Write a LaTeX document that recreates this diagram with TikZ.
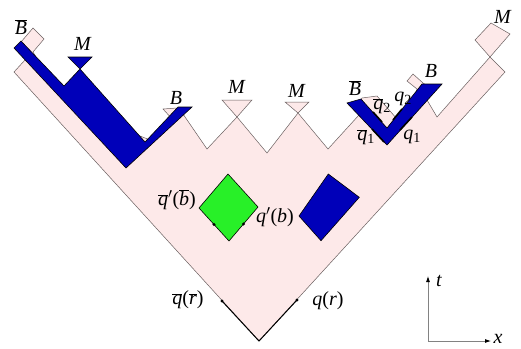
\documentclass[tikz,border=0pt]{standalone}
\usepackage{fontspec}
\setmainfont{Liberation Serif}
\usetikzlibrary{arrows.meta}
\definecolor{pinkfill}{RGB}{253,233,233}
\definecolor{bluefill}{RGB}{0,0,185}
\definecolor{greenfill}{RGB}{40,240,40}
\definecolor{edgegray}{RGB}{105,95,95}
\definecolor{axisgray}{RGB}{130,130,130}
\newcommand{\obar}[1]{$\overline{\mbox{\textit{#1}}}$}
\begin{document}
\begin{tikzpicture}[x=1pt,y=-1pt,
  lbl/.style={font=\fontsize{20}{22}\selectfont, inner sep=0pt, text=black},
  pinkarea/.style={fill=pinkfill, draw=edgegray, line width=0.5pt, line join=miter},
  bluearea/.style={fill=bluefill, draw=black, line width=0.6pt},
  greenarea/.style={fill=greenfill, draw=black, line width=0.6pt},
  quark/.style={black, line width=1pt},
  qthick/.style={black, line width=1.6pt},
  qdot/.style={fill=black},
  axis/.style={axisgray, line width=0.8pt, -{Latex[length=6pt,width=4pt,color=black]}}
]
\useasboundingbox (0,0) rectangle (521,348);

% string region (light cone with zigzag top)
\path[pinkarea] (259,341) -- (14,72) -- (25,60) -- (22,48) -- (21,42) -- (33,28) -- (44,39)
  -- (33,52) -- (40,64) -- (100,120) -- (150,140) -- (174,120) -- (169.4,116) -- (163,109)
  -- (177,108) -- (183,114) -- (207,149) -- (237,117) -- (222,100) -- (252,100) -- (237,117)
  -- (267,153) -- (298,113) -- (285,102) -- (309,102) -- (298,113) -- (328,149) -- (359,115)
  -- (358,104) -- (362,98) -- (377,96) -- (395.5,117.3) -- (412,105) -- (417,89) -- (407,81)
  -- (413,74) -- (423,83) -- (433,90) -- (427,100) -- (437,117) -- (490,57) -- (475,40)
  -- (491,23) -- (510,34) -- (490,57) -- (505,72) -- cycle;

% left baryon / meson blue region
\path[bluearea] (14,48) -- (21,41) -- (64,86) -- (80,69) -- (145,142) -- (178,107)
  -- (192,107) -- (126,168) -- cycle;
\path[bluearea] (68,57) -- (92,57) -- (80,69) -- cycle;

% right blue V
\path[bluearea] (347,103) -- (361,99) -- (387,128) -- (422,84) -- (442,84) -- (387,145) -- cycle;
\draw[qthick] (372,129) -- (384,142);
\draw[qthick] (400,130) -- (412,117);
\draw[qthick] (373,112) -- (382,122);
\draw[qthick] (393,120) -- (402,109);

% green and blue diamonds
\path[greenarea] (228,174) -- (258,207) -- (229,241) -- (199,208) -- cycle;
\fill[qdot] (214,224.5) circle (1.6pt);
\fill[qdot] (243.5,224) circle (1.6pt);
\path[bluearea] (328.3,174) -- (359.3,197.3) -- (321,240.7) -- (299,216) -- cycle;

% initial quark lines at the apex
\coordinate (apex) at (259,341);
\coordinate (qlft) at (222,301);
\coordinate (qrgt) at (297,300);
\draw[quark] (qlft) -- (apex) -- (qrgt);
\fill[qdot] (qlft) circle (1.7pt);
\fill[qdot] (qrgt) circle (1.7pt);

% axes
\coordinate (orig) at (428,341);
\coordinate (tend) at (428,276);
\coordinate (xend) at (491,341);
\draw[axis] (orig) -- (tend);
\draw[axis] (orig) -- (xend);
\node[lbl] (tlab) at (439,281) {\textit{t}};
\node[lbl] (xlab) at (498,339) {\textit{x}};

% labels
\node[lbl] (bb1) at (21,27) {\obar{B}};
\node[lbl] (m1) at (83,44) {\textit{M}};
\node[lbl] (b1) at (176,98) {\textit{B}};
\node[lbl] (m2) at (237,87) {\textit{M}};
\node[lbl] (m3) at (297,91) {\textit{M}};
\node[lbl] (bb2) at (355,88) {\obar{B}};
\node[lbl] (b2) at (431,71) {\textit{B}};
\node[lbl] (m4) at (503,17) {\textit{M}};
\node[lbl] (qb2) at (382,106) {\obar{q}\textsubscript{2}};
\node[lbl] (q2) at (403,99) {\textit{q}\textsubscript{2}};
\node[lbl] (qb1) at (366,137) {\obar{q}\textsubscript{1}};
\node[lbl] (q1) at (412,137) {\textit{q}\textsubscript{1}};
\node[lbl] (qpb) at (177,200) {\obar{q}$'$(\obar{b})};
\node[lbl] (qp) at (275,217) {\textit{q}$'$(\textit{b})};
\node[lbl] (qbr) at (188,300) {\obar{q}(\obar{r})};
\node[lbl] (qr) at (328,301) {\textit{q}(\textit{r})};
\end{tikzpicture}
\end{document}
